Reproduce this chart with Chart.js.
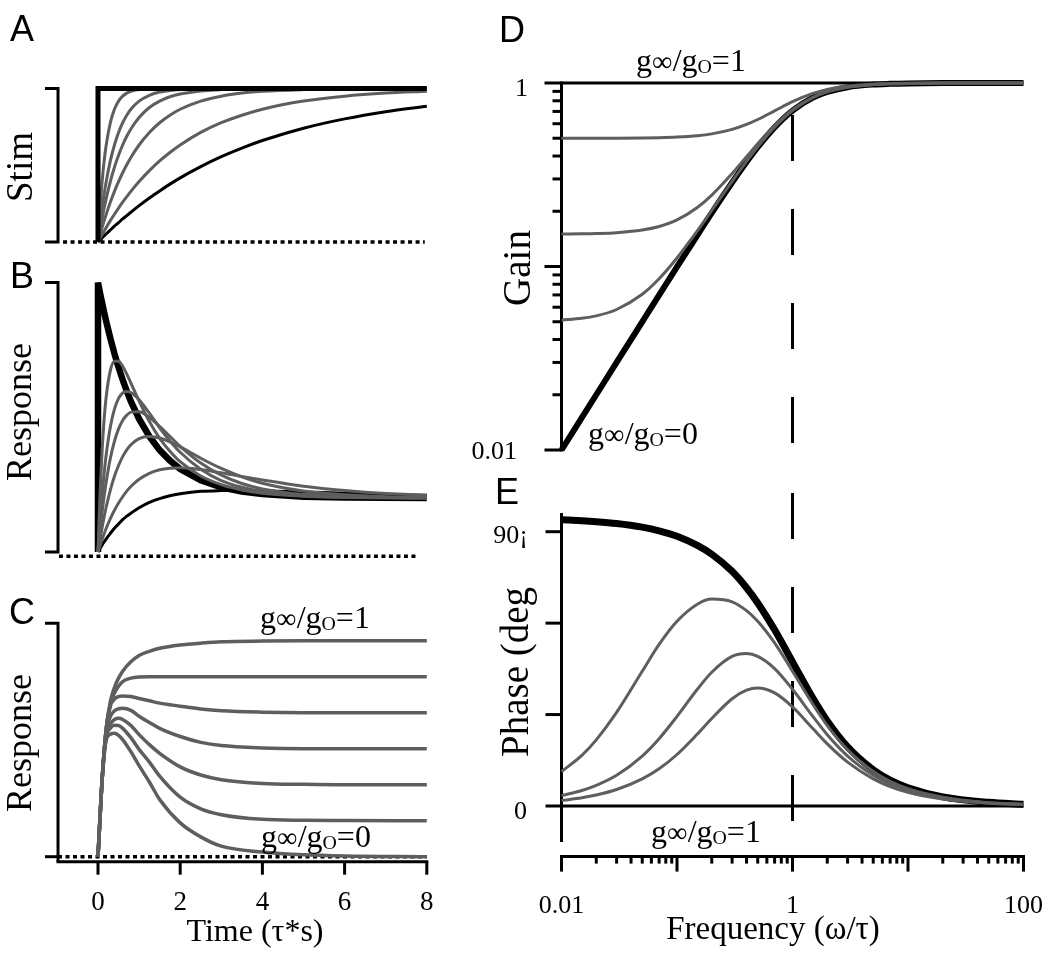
<!DOCTYPE html>
<html>
<head>
<meta charset="utf-8">
<script src="https://cdn.jsdelivr.net/npm/chart.js@4.4.1/dist/chart.umd.min.js"></script>
<style>
  body { margin: 0; background: #fff; }
  #wrap { position: relative; width: 1050px; height: 962px; }
  canvas { position: absolute; left: 0; top: 0; }
</style>
</head>
<body>
<div id="wrap">
  <canvas id="chartA" width="1050" height="962"></canvas>
  <canvas id="chartB" width="1050" height="962"></canvas>
  <canvas id="chartC" width="1050" height="962"></canvas>
  <canvas id="chartD" width="1050" height="962"></canvas>
  <canvas id="chartE" width="1050" height="962"></canvas>
</div>
<script>
// ---- panel A: stimulus time courses ----
const timeAB = [0, 0.05, 0.1, 0.15, 0.2, 0.3, 0.4, 0.5, 0.6, 0.7, 0.8, 1, 1.25, 1.5, 1.75, 2, 2.5, 3, 3.5, 4, 5, 6, 7, 8];
const stepTimeA = [0, 0, 8];
const stepStimA = [0, 1, 1];
const stimTau02 = [0, 0.221, 0.394, 0.528, 0.632, 0.777, 0.865, 0.918, 0.950, 0.970, 0.982, 0.993, 0.998, 0.999, 1, 1, 1, 1, 1, 1, 1, 1, 1, 1];
const stimTau04 = [0, 0.118, 0.221, 0.313, 0.394, 0.528, 0.632, 0.714, 0.777, 0.826, 0.865, 0.918, 0.956, 0.977, 0.987, 0.993, 0.998, 0.999, 1, 1, 1, 1, 1, 1];
const stimTau06 = [0, 0.080, 0.153, 0.221, 0.283, 0.394, 0.487, 0.565, 0.632, 0.689, 0.736, 0.811, 0.876, 0.918, 0.946, 0.964, 0.984, 0.993, 0.997, 0.999, 1, 1, 1, 1];
const stimTau1 = [0, 0.049, 0.095, 0.139, 0.181, 0.259, 0.330, 0.393, 0.451, 0.503, 0.551, 0.632, 0.713, 0.777, 0.826, 0.865, 0.918, 0.950, 0.970, 0.982, 0.993, 0.998, 0.999, 1];
const stimTau2 = [0, 0.025, 0.049, 0.072, 0.095, 0.139, 0.181, 0.221, 0.259, 0.295, 0.330, 0.394, 0.465, 0.528, 0.583, 0.632, 0.714, 0.777, 0.826, 0.865, 0.918, 0.950, 0.970, 0.982];
const stimTau4 = [0, 0.013, 0.027, 0.040, 0.053, 0.078, 0.103, 0.126, 0.150, 0.172, 0.194, 0.237, 0.287, 0.333, 0.377, 0.418, 0.491, 0.556, 0.612, 0.661, 0.741, 0.802, 0.849, 0.885];

// ---- panel B: responses to those stimuli ----
const stepTimeB = [0, 0, 0.05, 0.1, 0.15, 0.2, 0.3, 0.4, 0.5, 0.6, 0.7, 0.8, 1, 1.25, 1.5, 1.75, 2, 2.5, 3, 3.5, 4, 5, 6, 7, 8];
const stepRespB = [0, 1, 0.961, 0.924, 0.889, 0.855, 0.793, 0.736, 0.685, 0.639, 0.597, 0.559, 0.494, 0.429, 0.378, 0.339, 0.308, 0.266, 0.240, 0.224, 0.215, 0.205, 0.202, 0.201, 0.200];
const respTau02 = [0, 0.216, 0.377, 0.494, 0.577, 0.673, 0.708, 0.708, 0.689, 0.660, 0.627, 0.560, 0.484, 0.422, 0.374, 0.335, 0.282, 0.250, 0.230, 0.218, 0.207, 0.203, 0.201, 0.200];
const respTau04 = [0, 0.115, 0.212, 0.294, 0.362, 0.464, 0.530, 0.570, 0.590, 0.596, 0.592, 0.565, 0.515, 0.461, 0.412, 0.370, 0.307, 0.265, 0.240, 0.224, 0.209, 0.203, 0.201, 0.200];
const respTau06 = [0, 0.078, 0.147, 0.208, 0.261, 0.347, 0.411, 0.457, 0.488, 0.508, 0.519, 0.520, 0.499, 0.466, 0.429, 0.392, 0.330, 0.285, 0.254, 0.234, 0.213, 0.205, 0.202, 0.201];
const respTau1 = [0, 0.048, 0.091, 0.131, 0.167, 0.230, 0.281, 0.321, 0.354, 0.379, 0.398, 0.421, 0.429, 0.423, 0.409, 0.390, 0.348, 0.310, 0.279, 0.255, 0.226, 0.212, 0.205, 0.202];
const respTau2 = [0, 0.024, 0.047, 0.068, 0.088, 0.124, 0.155, 0.182, 0.205, 0.226, 0.243, 0.270, 0.292, 0.305, 0.311, 0.313, 0.306, 0.294, 0.280, 0.267, 0.244, 0.228, 0.217, 0.211];
const respTau4 = [0, 0.013, 0.026, 0.038, 0.049, 0.069, 0.088, 0.104, 0.120, 0.133, 0.144, 0.164, 0.184, 0.198, 0.209, 0.216, 0.225, 0.228, 0.229, 0.227, 0.223, 0.218, 0.214, 0.211];

// ---- panel C: step responses for g_inf/g_0 = 1 ... 0 ----
const timeC = [0, 0.05, 0.1, 0.2, 0.3, 0.4, 0.5, 0.6, 0.8, 1, 1.25, 1.5, 2, 2.5, 3, 4, 5, 6, 8];
const respG100 = [0, 0.17, 0.33, 0.55, 0.665, 0.725, 0.765, 0.795, 0.835, 0.862, 0.88, 0.893, 0.907, 0.915, 0.921, 0.924, 0.925, 0.925, 0.925];
const respG83 = [0, 0.17, 0.33, 0.55, 0.655, 0.70, 0.73, 0.75, 0.765, 0.77, 0.771, 0.771, 0.771, 0.771, 0.771, 0.771, 0.771, 0.771, 0.771];
const respG67 = [0, 0.17, 0.33, 0.55, 0.645, 0.675, 0.686, 0.689, 0.686, 0.678, 0.668, 0.658, 0.645, 0.633, 0.625, 0.619, 0.617, 0.617, 0.617];
const respG50 = [0, 0.17, 0.33, 0.54, 0.60, 0.625, 0.634, 0.636, 0.627, 0.602, 0.575, 0.55, 0.515, 0.49, 0.476, 0.466, 0.463, 0.463, 0.463];
const respG33 = [0, 0.17, 0.33, 0.53, 0.57, 0.588, 0.593, 0.588, 0.562, 0.523, 0.48, 0.443, 0.385, 0.35, 0.33, 0.314, 0.31, 0.308, 0.308];
const respG17 = [0, 0.17, 0.33, 0.51, 0.55, 0.563, 0.562, 0.55, 0.51, 0.46, 0.405, 0.345, 0.255, 0.205, 0.18, 0.16, 0.156, 0.155, 0.154];
const respG0 = [0, 0.17, 0.33, 0.50, 0.525, 0.529, 0.52, 0.502, 0.45, 0.39, 0.32, 0.245, 0.145, 0.085, 0.045, 0.02, 0.008, 0.003, 0];
const timeTicks = [0, 2, 4, 6, 8];

// ---- panels D/E: gain and phase vs frequency ----
const freq = [0.01, 0.015, 0.02, 0.03, 0.05, 0.07, 0.1, 0.15, 0.2, 0.3, 0.4, 0.5, 0.7, 1, 1.5, 2, 3, 5, 7, 10, 20, 50, 100];
const gainG1 = [1, 1, 1, 1, 1, 1, 1, 1, 1, 1, 1, 1, 1, 1, 1, 1, 1, 1, 1, 1, 1, 1, 1];
const gainG05 = [0.500, 0.5002, 0.5003, 0.5007, 0.5019, 0.5036, 0.5074, 0.5162, 0.5281, 0.5585, 0.5945, 0.6325, 0.7047, 0.7906, 0.8771, 0.922, 0.9618, 0.9855, 0.9925, 0.9963, 0.9995, 1, 1];
const gainG015 = [0.1503, 0.1507, 0.1513, 0.1529, 0.1579, 0.1651, 0.1794, 0.2098, 0.2451, 0.3213, 0.3966, 0.4669, 0.5865, 0.715, 0.8362, 0.897, 0.9499, 0.981, 0.9902, 0.9951, 0.9994, 1, 1];
const gainG005 = [0.051, 0.0522, 0.0538, 0.0583, 0.0706, 0.0858, 0.1113, 0.1564, 0.2022, 0.2913, 0.3743, 0.4494, 0.5749, 0.708, 0.8325, 0.8947, 0.9488, 0.9806, 0.990, 0.995, 0.999, 1, 1];
const gainG0 = [0.01, 0.015, 0.02, 0.03, 0.0499, 0.0698, 0.0995, 0.148, 0.196, 0.287, 0.371, 0.447, 0.573, 0.707, 0.832, 0.894, 0.949, 0.981, 0.990, 0.995, 0.999, 1, 1];
const phaseG1 = [0, 0, 0, 0, 0, 0, 0, 0, 0, 0, 0, 0, 0, 0, 0, 0, 0, 0, 0, 0, 0, 0, 0];
const phaseG025 = [1.8, 2.7, 3.6, 5.4, 8.9, 12.2, 16.9, 23.6, 28.7, 35.2, 38.0, 38.7, 37.1, 32.5, 25.4, 20.4, 14.4, 8.9, 6.4, 4.5, 2.3, 0.9, 0.5];
const phaseG015 = [3.4, 5.1, 6.8, 10.1, 16.4, 22.1, 29.4, 38.3, 43.9, 49.1, 50.0, 49.1, 45.1, 38.3, 29.4, 23.4, 16.4, 10.1, 7.2, 5.1, 2.6, 1.0, 0.5];
const phaseG005 = [11.3, 16.6, 21.7, 30.7, 44.2, 53.0, 60.6, 66.2, 67.9, 67.0, 64.1, 60.6, 53.5, 44.2, 33.4, 26.4, 18.4, 11.3, 8.1, 5.7, 2.9, 1.1, 0.6];
const phaseG0 = [93.9, 93.6, 93.3, 92.7, 91.5, 90.3, 88.5, 85.5, 82.6, 77.0, 71.6, 66.6, 57.8, 47.3, 35.4, 27.9, 19.4, 11.9, 8.5, 6.0, 3.0, 1.2, 0.6];
const cutoffFreq = [1, 1];
const cutoffGain = [0.67, 0.0104];
const cutoffPhase = [102.7, -5.3];
const gainMajor = [0.01, 0.1, 1];
const gainMinor = [0.02, 0.03, 0.04, 0.05, 0.06, 0.07, 0.08, 0.09, 0.2, 0.3, 0.4, 0.5, 0.6, 0.7, 0.8, 0.9];
const phaseTicks = [0, 30, 60, 90];
const freqMajor = [0.01, 0.1, 1, 10, 100];
const freqLabels = [0.01, 1, 100];

const SERIF = '"Liberation Serif", "Times New Roman", serif';
const SANS = '"Liberation Sans", Arial, sans-serif';
const GRAY = "#5e5e5e";
const W = 1050, H = 962;

function series(xs, ys, color, width, extra) {
    return Object.assign({
        data: xs.map((x, i) => ({ x: x, y: ys[i] })),
        borderColor: color,
        borderWidth: width,
        pointRadius: 0,
        fill: false,
        clip: false,
        cubicInterpolationMode: "monotone"
    }, extra || {});
}

function stroke(ctx, pts, width, dash) {
    ctx.save();
    ctx.strokeStyle = "#000";
    ctx.lineWidth = width;
    ctx.lineCap = "butt";
    ctx.lineJoin = "miter";
    ctx.setLineDash(dash || []);
    ctx.beginPath();
    pts.forEach((p, i) => i ? ctx.lineTo(p[0], p[1]) : ctx.moveTo(p[0], p[1]));
    ctx.stroke();
    ctx.restore();
}

function text(ctx, str, x, y, font, align, rotate) {
    ctx.save();
    ctx.fillStyle = "#000";
    ctx.font = font;
    ctx.textAlign = align || "center";
    ctx.textBaseline = "middle";
    ctx.translate(x, y);
    if (rotate) ctx.rotate(-Math.PI / 2);
    ctx.fillText(str, 0, 0);
    ctx.restore();
}

// "g∞/g0=1" style label, centred on (cx, cy)
function ratioLabel(ctx, tail, cx, cy, size) {
    const parts = [["g", 1, 0], ["\u221E", 0.9, 0], ["/g", 1, 0], ["O", 0.62, 0.06], [tail, 1, 0]];
    ctx.save();
    ctx.fillStyle = "#000";
    ctx.textAlign = "left";
    ctx.textBaseline = "alphabetic";
    let w = 0;
    parts.forEach(p => { ctx.font = (size * p[1]) + "px " + SERIF; w += ctx.measureText(p[0]).width; });
    let x = cx - w / 2;
    const base = cy + size * 0.22;
    parts.forEach(p => {
        ctx.font = (size * p[1]) + "px " + SERIF;
        ctx.fillText(p[0], x, base + p[2] * size);
        x += ctx.measureText(p[0]).width;
    });
    ctx.restore();
}

function makeChart(id, area, scales, datasets, deco) {
    return new Chart(document.getElementById(id), {
        type: "line",
        data: { datasets: datasets },
        options: {
            responsive: false,
            animation: false,
            events: [],
            layout: {
                autoPadding: false,
                padding: { left: area.left, top: area.top, right: W - area.right, bottom: H - area.bottom }
            },
            plugins: { legend: { display: false }, tooltip: { enabled: false } },
            scales: scales
        },
        plugins: [deco]
    });
}

const timeScales = (yMin, yMax) => ({
    x: { type: "linear", min: -1, max: 8, display: false },
    y: { type: "linear", min: yMin, max: yMax, display: false }
});
const AX = -0.973, TICK = -1.29;   // left bracket position in time units

// ---- A ----
makeChart("chartA", { left: 56.9, right: 426.8, top: 88.5, bottom: 242 }, timeScales(0, 1), [
    series(stepTimeA, stepStimA, "#000", 5, { tension: 0, cubicInterpolationMode: "default" }),
    series(timeAB, stimTau02, GRAY, 3),
    series(timeAB, stimTau04, GRAY, 3),
    series(timeAB, stimTau06, GRAY, 3),
    series(timeAB, stimTau1, GRAY, 3),
    series(timeAB, stimTau2, GRAY, 3),
    series(timeAB, stimTau4, "#000", 3)
], {
    id: "decoA",
    beforeDatasetsDraw(chart) {
        const ctx = chart.ctx, xs = chart.scales.x, ys = chart.scales.y;
        const x = xs.getPixelForValue(AX), xt = xs.getPixelForValue(TICK);
        stroke(ctx, [[xt, ys.getPixelForValue(1)], [x, ys.getPixelForValue(1)], [x, ys.getPixelForValue(0)], [xt, ys.getPixelForValue(0)]], 3);
        stroke(ctx, [[xs.getPixelForValue(-0.85), ys.getPixelForValue(0)], [xs.getPixelForValue(7.95), ys.getPixelForValue(0)]], 3.5, [4, 3.5]);
        text(ctx, "A", 22, 31, "36px " + SANS);
        text(ctx, "Stim", 22, 167, "37px " + SERIF, "center", true);
    }
});

// ---- B ----
makeChart("chartB", { left: 56.9, right: 426.8, top: 282.5, bottom: 552 }, timeScales(0, 1), [
    series(timeAB, respTau02, GRAY, 3),
    series(timeAB, respTau04, GRAY, 3),
    series(timeAB, respTau06, GRAY, 3),
    series(timeAB, respTau1, GRAY, 3),
    series(timeAB, respTau2, GRAY, 3),
    series(timeAB, respTau4, "#000", 3),
    series(stepTimeB, stepRespB, "#000", 6.5, { tension: 0, cubicInterpolationMode: "default" })
], {
    id: "decoB",
    beforeDatasetsDraw(chart) {
        const ctx = chart.ctx, xs = chart.scales.x, ys = chart.scales.y;
        const x = xs.getPixelForValue(AX), xt = xs.getPixelForValue(TICK);
        stroke(ctx, [[xt, ys.getPixelForValue(1)], [x, ys.getPixelForValue(1)], [x, ys.getPixelForValue(0)], [xt, ys.getPixelForValue(0)]], 3);
        stroke(ctx, [[xs.getPixelForValue(-0.95), ys.getPixelForValue(-0.016)], [xs.getPixelForValue(7.8), ys.getPixelForValue(-0.016)]], 3.5, [4, 3.5]);
        text(ctx, "B", 22, 278, "36px " + SANS);
        text(ctx, "Response", 22, 412, "36px " + SERIF, "center", true);
    }
});

// ---- C ----
makeChart("chartC", { left: 56.9, right: 426.8, top: 623.3, bottom: 856.7 }, timeScales(0, 1), [
    series(timeC, respG100, GRAY, 3.5),
    series(timeC, respG83, GRAY, 3.5),
    series(timeC, respG67, GRAY, 3.5),
    series(timeC, respG50, GRAY, 3.5),
    series(timeC, respG33, GRAY, 3.5),
    series(timeC, respG17, GRAY, 3.5),
    series(timeC, respG0, GRAY, 3.5)
], {
    id: "decoC",
    beforeDatasetsDraw(chart) {
        const ctx = chart.ctx, xs = chart.scales.x, ys = chart.scales.y;
        const x = xs.getPixelForValue(AX), xt = xs.getPixelForValue(TICK);
        const y0 = ys.getPixelForValue(0), axisY = y0 + 5;
        stroke(ctx, [[xt, ys.getPixelForValue(1)], [x, ys.getPixelForValue(1)], [x, axisY]], 3);
        stroke(ctx, [[xt, y0], [x, y0]], 3);
        stroke(ctx, [[x, y0], [xs.getPixelForValue(8), y0]], 3.5, [4, 3.5]);
        stroke(ctx, [[x - 1.5, axisY], [xs.getPixelForValue(8) + 1.5, axisY]], 3);
        timeTicks.forEach(t => {
            const px = xs.getPixelForValue(t);
            stroke(ctx, [[px, axisY], [px, axisY + 13]], 3);
            text(ctx, String(t), px, axisY + 41, "27px " + SERIF);
        });
        text(ctx, "C", 22, 614, "36px " + SANS);
        text(ctx, "Response", 22, 743, "36px " + SERIF, "center", true);
        text(ctx, "Time (\u03C4*s)", 255, 933, "32px " + SERIF);
    },
    afterDatasetsDraw(chart) {
        const ctx = chart.ctx;
        ratioLabel(ctx, "=1", 315, 621, 32);
        ratioLabel(ctx, "=0", 316, 840, 32);
    }
});

const freqX = { type: "logarithmic", min: 0.01, max: 100, display: false };

// ---- D ----
makeChart("chartD", { left: 561.5, right: 1023.5, top: 83, bottom: 450 }, {
    x: freqX,
    y: { type: "logarithmic", min: 0.01, max: 1, display: false }
}, [
    series(freq, gainG05, GRAY, 3),
    series(freq, gainG015, GRAY, 3),
    series(freq, gainG005, GRAY, 3),
    series(freq, gainG0, "#000", 6),
    series(freq, gainG1, "#000", 3),
    series(cutoffFreq, cutoffGain, "#000", 3, { borderDash: [46, 48], tension: 0, cubicInterpolationMode: "default" })
], {
    id: "decoD",
    beforeDatasetsDraw(chart) {
        const ctx = chart.ctx, xs = chart.scales.x, ys = chart.scales.y;
        const x = xs.getPixelForValue(0.01);
        stroke(ctx, [[x, ys.getPixelForValue(1) - 1.5], [x, ys.getPixelForValue(0.01) + 1.5]], 3);
        gainMajor.forEach(v => stroke(ctx, [[x - 17, ys.getPixelForValue(v)], [x, ys.getPixelForValue(v)]], 3));
        gainMinor.forEach(v => stroke(ctx, [[x - 9, ys.getPixelForValue(v)], [x, ys.getPixelForValue(v)]], 3));
        text(ctx, "1", 528, ys.getPixelForValue(1) + 6, "26px " + SERIF, "right");
        text(ctx, "0.01", 517, ys.getPixelForValue(0.01) + 2, "26px " + SERIF, "right");
        text(ctx, "D", 512, 32, "36px " + SANS);
        text(ctx, "Gain", 520, 268, "39px " + SERIF, "center", true);
    },
    afterDatasetsDraw(chart) {
        const ctx = chart.ctx;
        ratioLabel(ctx, "=1", 691, 64, 32);
        ratioLabel(ctx, "=0", 643, 437, 32);
    }
});

// ---- E ----
makeChart("chartE", { left: 561.5, right: 1023.5, top: 531.7, bottom: 806 }, {
    x: freqX,
    y: { type: "linear", min: 0, max: 90, display: false }
}, [
    series(freq, phaseG025, GRAY, 3),
    series(freq, phaseG015, GRAY, 3),
    series(freq, phaseG005, GRAY, 3),
    series(freq, phaseG0, "#000", 7),
    series(freq, phaseG1, "#000", 3),
    series(cutoffFreq, cutoffPhase, "#000", 3, { borderDash: [46, 48], tension: 0, cubicInterpolationMode: "default" })
], {
    id: "decoE",
    beforeDatasetsDraw(chart) {
        const ctx = chart.ctx, xs = chart.scales.x, ys = chart.scales.y;
        const x = xs.getPixelForValue(0.01);
        stroke(ctx, [[x, ys.getPixelForValue(96.1)], [x, ys.getPixelForValue(-11.8)]], 3);
        phaseTicks.forEach(v => stroke(ctx, [[x - 16, ys.getPixelForValue(v)], [x, ys.getPixelForValue(v)]], 3));
        // separate frequency axis below the panel
        const axisY = ys.getPixelForValue(-16.6);
        stroke(ctx, [[x - 1.5, axisY], [xs.getPixelForValue(100) + 1.5, axisY]], 3);
        freqMajor.forEach(v => {
            const px = xs.getPixelForValue(v);
            stroke(ctx, [[px, axisY], [px, axisY + 15]], 3);
            if (v < 100) {
                for (let k = 2; k <= 9; k++) {
                    const m = xs.getPixelForValue(v * k);
                    stroke(ctx, [[m, axisY], [m, axisY + 7]], 3);
                }
            }
        });
        freqLabels.forEach(v => text(ctx, String(v), xs.getPixelForValue(v), axisY + 50, "26px " + SERIF));
        text(ctx, "Frequency (\u03C9/\u03C4)", 773, 930, "33px " + SERIF);
        text(ctx, "90\u00A1", 528, ys.getPixelForValue(90) + 4, "26px " + SERIF, "right");
        text(ctx, "0", 527, ys.getPixelForValue(0) + 6, "26px " + SERIF, "right");
        text(ctx, "E", 507, 494, "36px " + SANS);
        text(ctx, "Phase (deg", 518, 672, "39px " + SERIF, "center", true);
    },
    afterDatasetsDraw(chart) {
        ratioLabel(chart.ctx, "=1", 706, 835, 32);
    }
});
</script>
</body>
</html>
